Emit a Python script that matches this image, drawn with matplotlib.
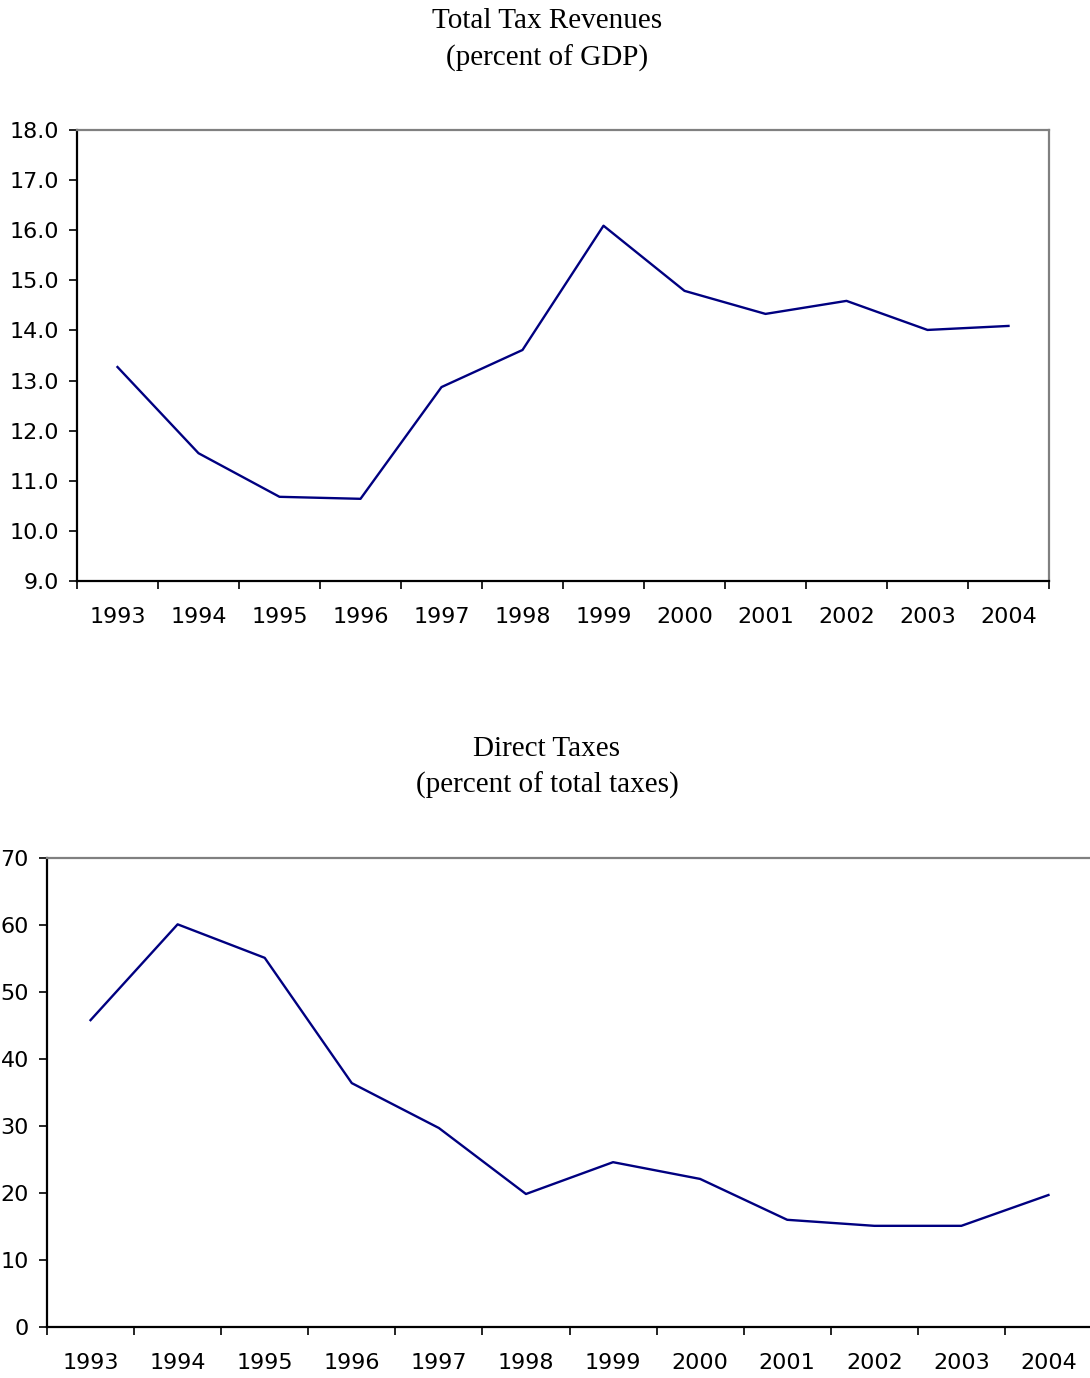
import matplotlib
matplotlib.use('Agg')
import matplotlib.pyplot as plt
from matplotlib.ticker import FixedLocator, NullFormatter

years = ['1993', '1994', '1995', '1996', '1997', '1998',
         '1999', '2000', '2001', '2002', '2003', '2004']
total_tax = [13.27, 11.55, 10.68, 10.64, 12.87, 13.61,
             16.09, 14.79, 14.33, 14.59, 14.01, 14.09]
direct_tax = [45.8, 60.1, 55.1, 36.4, 29.7, 19.85,
              24.6, 22.1, 16.0, 15.1, 15.1, 19.7]

W, H = 1090, 1378
line_color = '#000080'
tick_font = 'DejaVu Sans'
title_font = ['Liberation Serif', 'DejaVu Serif']


def style_axes(ax, ylim, yticks, yfmt):
    x = list(range(1, len(years) + 1))
    ax.set_xlim(0.5, len(years) + 0.5)
    ax.set_ylim(*ylim)
    ax.set_yticks(yticks)
    ax.set_yticklabels([yfmt % v for v in yticks], family=tick_font, fontsize=16)
    # ticks at category boundaries, labels centred in categories
    ax.xaxis.set_major_locator(FixedLocator([i + 0.5 for i in range(0, len(years) + 1)]))
    ax.xaxis.set_major_formatter(NullFormatter())
    ax.xaxis.set_minor_locator(FixedLocator(x))
    ax.set_xticklabels(years, minor=True, family=tick_font, fontsize=16)
    ax.tick_params(axis='x', which='major', direction='out', length=6, width=1.2, color='black')
    ax.tick_params(axis='x', which='minor', length=0, pad=19)
    ax.tick_params(axis='y', direction='out', length=6, width=1.2, color='black', pad=7)
    ax.spines['left'].set_color('black')
    ax.spines['bottom'].set_color('black')
    ax.spines['top'].set_color('#808080')
    ax.spines['right'].set_color('#808080')
    for s in ax.spines.values():
        s.set_linewidth(1.6)


fig = plt.figure(figsize=(W / 100, H / 100), dpi=100)

# top chart
ax1 = fig.add_axes([77 / W, 1 - 581 / H, (1049 - 77) / W, (581 - 130) / H])
ax1.plot(range(1, 13), total_tax, color=line_color, linewidth=1.7)
style_axes(ax1, (9, 18), [9 + i for i in range(10)], '%.1f')
fig.text(547 / W, 1 - 21 / H, 'Total Tax Revenues', ha='center', va='center',
         family=title_font, fontsize=21)
fig.text(547 / W, 1 - 58 / H, '(percent of GDP)', ha='center', va='center',
         family=title_font, fontsize=21)

# bottom chart
ax2 = fig.add_axes([47 / W, 1 - 1327 / H, 1045 / W, (1327 - 858) / H])
ax2.plot(range(1, 13), direct_tax, color=line_color, linewidth=1.7)
style_axes(ax2, (0, 70), list(range(0, 80, 10)), '%d')
fig.text(547 / W, 1 - 749 / H, 'Direct Taxes', ha='center', va='center',
         family=title_font, fontsize=21)
fig.text(547 / W, 1 - 785 / H, '(percent of total taxes)', ha='center', va='center',
         family=title_font, fontsize=21)

fig.savefig('out.png', dpi=100)
